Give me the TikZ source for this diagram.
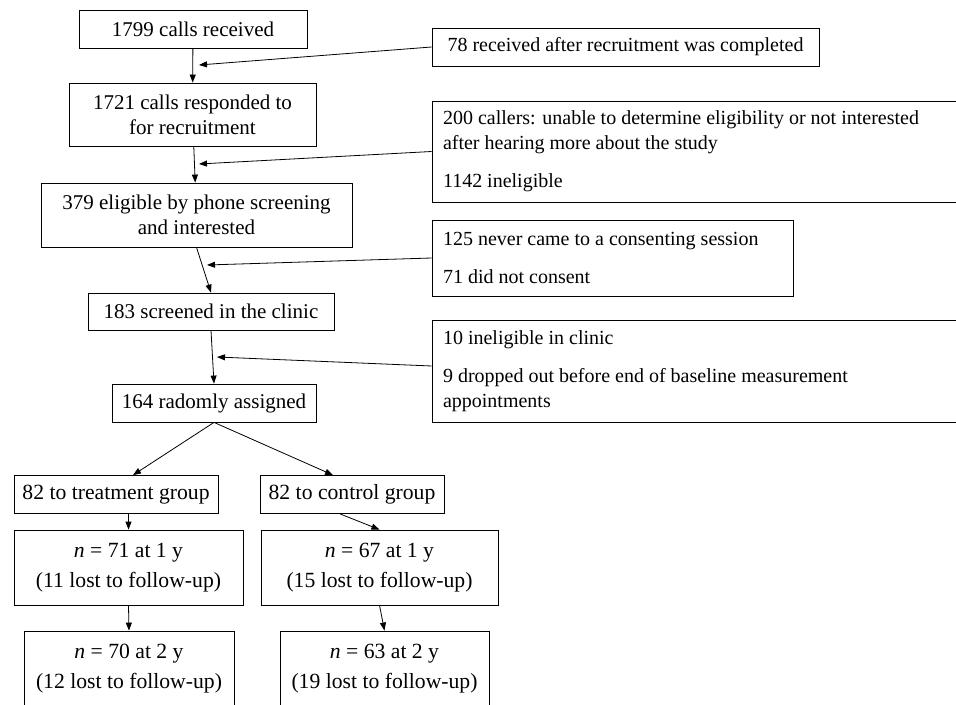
\documentclass[tikz,border=0pt]{standalone}
\usepackage{fontspec}
\setmainfont{Liberation Serif}
\usetikzlibrary{calc, arrows.meta}

\begin{document}
\begin{tikzpicture}[
    x=0.75pt, y=-0.75pt,
    >={Triangle[length=6pt, width=4.5pt]},
    line width=0.6pt,
    font=\fontsize{15.75}{18.75}\selectfont
]

    % Box styles (sizes given in px of the page)
    \tikzset{
        box/.style={draw, inner sep=0pt, align=flush center},
        sidebox/.style={draw, inner xsep=8.25pt, inner ysep=0pt, align=flush left,
            font=\fontsize{15}{18.75}\selectfont},
        grp/.style={box, font=\fontsize{16.25}{19.5}\selectfont},
        sz/.style 2 args={minimum width=#1*0.75pt, minimum height=#2*0.75pt}
    }

    \useasboundingbox (0,0) rectangle (956,705);
    \clip (0,0) rectangle (956,705);

    % Main column
    \node[box, sz={228}{38}] (calls) at (193,29) {1799 calls received};
    \node[box, sz={247}{63}] (resp) at (192.5,114.5) {1721 calls responded to\\for recruitment};
    \node[box, sz={311}{64}] (elig) at (196.5,215) {379 eligible by phone screening\\and interested};
    \node[box, sz={246}{37}] (clinic) at (211,311.5) {183 screened in the clinic};
    \node[box, sz={204}{38}] (assign) at (214,403) {164 radomly assigned};

    % Excluded at each step
    \node[box, sz={387}{38}, font=\fontsize{15}{18.75}\selectfont] (late) at (625.5,47)
        {78 received after recruitment was completed};
    \node[sidebox, sz={530}{101}, text width=381pt] (noinfo) at (697,151.5)
        {200 callers: unable to determine eligibility or not interested\\after hearing more about the study\\[9.75pt]1142 ineligible};
    \node[sidebox, sz={361}{76}, text width=254.25pt] (nocons) at (612.5,258)
        {125 never came to a consenting session\\[9.75pt]71 did not consent};
    \node[sidebox, sz={530}{102}, text width=381pt] (drop) at (697,371)
        {10 ineligible in clinic\\[9.75pt]9 dropped out before end of baseline measurement\\appointments};

    % Groups
    \node[grp, sz={204}{38}] (treat) at (116,494.5) {82 to treatment group};
    \node[grp, sz={184}{38}] (control) at (352,494.5) {82 to control group};

    % Follow-up
    \node[grp, sz={229}{75}] (tr1) at (128.5,567.5) {\textit{n} = 71 at 1 y\\[3pt](11 lost to follow-up)};
    \node[grp, sz={237}{75}] (co1) at (379.5,567.5) {\textit{n} = 67 at 1 y\\[3pt](15 lost to follow-up)};
    \node[grp, sz={210}{76}] (tr2) at (129,669) {\textit{n} = 70 at 2 y\\[3pt](12 lost to follow-up)};
    \node[grp, sz={209}{76}] (co2) at (384.5,669) {\textit{n} = 63 at 2 y\\[3pt](19 lost to follow-up)};

    % Points where the exclusions join
    \coordinate (j1) at (199,65);
    \coordinate (j2) at (199,164);
    \coordinate (j3) at (207,265);
    \coordinate (j4) at (217,357);

    % Main flow
    \draw[->] (calls) -- (resp);
    \draw[->] (resp) -- (elig);
    \draw[->] (elig.south) -- (clinic.north);
    \draw[->] (clinic.south) -- (assign.north);
    \draw[->] (assign.south) -- ($(treat.north)+(17,0)$);
    \draw[->] (assign.south) -- ($(control.north)+(-19,0)$);
    \draw[->] (tr1.north |- treat.south) -- (tr1.north);
    \draw[->] ($(control.south)+(-12,0)$) -- (co1.north);
    \draw[->] (tr1.south) -- (tr2.north);
    \draw[->] (co1.south) -- (co2.north);

    % Exclusions
    \draw[->] (late.west) -- (j1);
    \draw[->] (noinfo.west) -- (j2);
    \draw[->] (nocons.west) -- (j3);
    \draw[->] ($(drop.west)+(0,-5)$) -- (j4);

\end{tikzpicture}
\end{document}
